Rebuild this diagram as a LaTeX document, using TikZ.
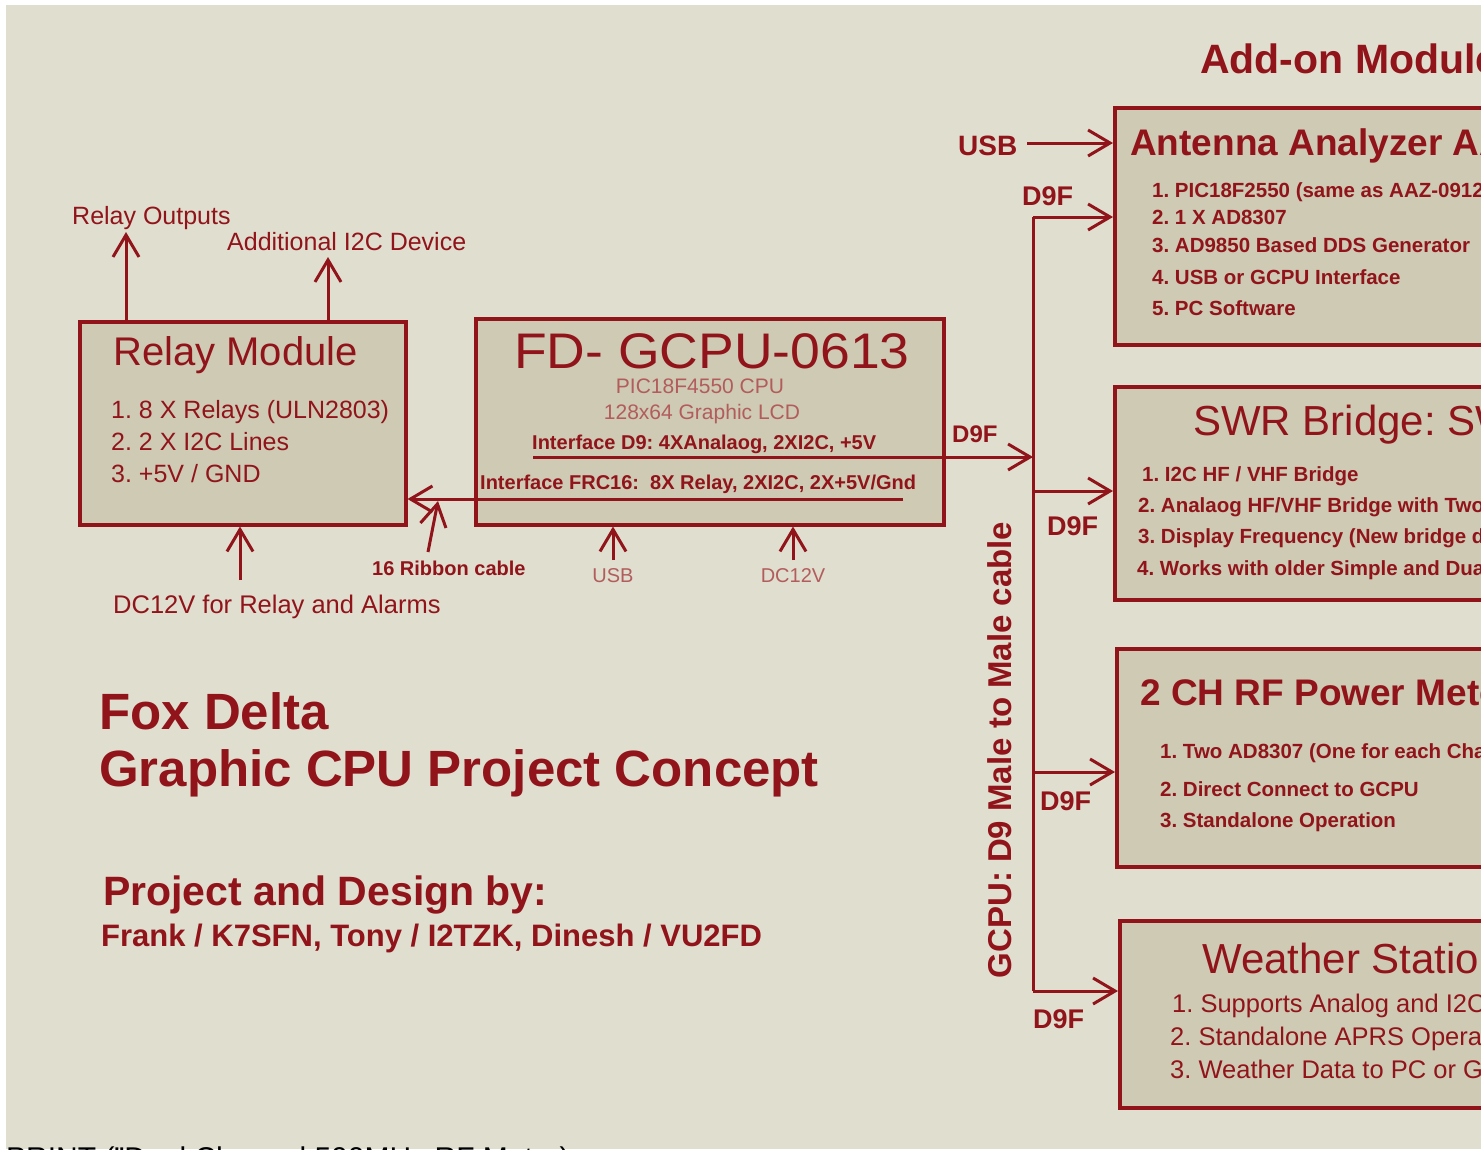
\documentclass[tikz,border=0pt]{standalone}
\usepackage{fontspec}
\usepackage{graphicx}
\setmainfont{Liberation Sans}
\usetikzlibrary{arrows.meta}
\definecolor{fdred}{RGB}{145,20,27}
\definecolor{fdlight}{RGB}{178,92,92}
\definecolor{bgc}{RGB}{223,222,207}
\definecolor{boxc}{RGB}{206,202,180}
\newcommand\fsz[1]{\fontsize{#1}{#1}\selectfont}
\frenchspacing
\begin{document}
\begin{tikzpicture}[x=1pt,y=-1pt,
 box/.style={draw=fdred, fill=boxc, line width=3.5pt, inner sep=0pt, anchor=north west},
 wire/.style={draw=fdred, line width=3pt},
 arr/.style={wire, -{Straight Barb[length=22pt,width=26pt]}},
 txt/.style={text=fdred, inner sep=0pt, anchor=base west},
 ctxt/.style={text=fdred, inner sep=0pt, anchor=base},
 ltxt/.style={text=fdlight, inner sep=0pt, anchor=base},
]
\useasboundingbox (0,0) rectangle (1481,1149);
\clip (0,0) rectangle (1481,1149);
\fill[white] (0,0) rectangle (1481,1149);
\fill[bgc] (6,5) rectangle (1481,1149);

% ---------- boxes ----------
\node[box, minimum width=326pt, minimum height=203pt] (relay) at (78,320) {};
\node[box, minimum width=468pt, minimum height=206pt] (cpu) at (474,317) {};
\node[box, minimum width=487pt, minimum height=237pt] (ant) at (1113,106) {};
\node[box, minimum width=487pt, minimum height=213pt] (swr) at (1113,385) {};
\node[box, minimum width=487pt, minimum height=218pt] (pwr) at (1115,647) {};
\node[box, minimum width=487pt, minimum height=187pt] (wx) at (1118,919) {};

% ---------- relay module ----------
\node[txt, font=\fsz{40}] (rmt) at (113,365) {Relay Module};
\node[txt, font=\fsz{25}] (rm1) at (111,418) {1. 8 X Relays (ULN2803)};
\node[txt, font=\fsz{25}] (rm2) at (111,450) {2. 2 X I2C Lines};
\node[txt, font=\fsz{25}] (rm3) at (111,482) {3. +5V / GND};

\node[txt, font=\fsz{25}] (rout) at (72,224) {Relay Outputs};
\node[txt, font=\fsz{25}] (ai2c) at (227,250) {Additional I2C Device};
\node[txt, font=\fsz{25.5}] (rdc) at (113,613) {DC12V for Relay and Alarms};
\coordinate (routtip) at (126,232);
\coordinate (ai2ctip) at (328,257);
\coordinate (rdcfoot) at (240,580);
\draw[arr] (relay.north -| routtip) -- (routtip);
\draw[arr] (relay.north -| ai2ctip) -- (ai2ctip);
\draw[arr] (rdcfoot) -- (relay.south -| rdcfoot);

% ---------- CPU ----------
\node[ctxt, font=\fsz{50}] (cput) at (712,368) {\scalebox{1.07}[1]{FD- GCPU-0613}};
\node[ltxt, font=\fsz{21}] (cpu1) at (700,393) {PIC18F4550 CPU};
\node[ltxt, font=\fsz{21}] (cpu2) at (702,419) {128x64 Graphic LCD};
\node[txt, font=\fsz{20}\bfseries] (if1) at (532,449) {Interface D9: 4XAnalaog, 2XI2C, +5V};
\node[txt, font=\fsz{20}\bfseries] (if2) at (480,489) {Interface FRC16:~ 8X Relay, 2XI2C, 2X+5V/Gnd};
\coordinate (d9start) at (533,457);
\coordinate (frcstart) at (903,499);
\coordinate (bustop) at (1033,217);
\coordinate (busbot) at (1033,991);
\draw[arr] (d9start) -- (d9start -| bustop);
\draw[arr] (frcstart) -- (frcstart -| relay.east);

\node[txt, font=\fsz{20}\bfseries] (rib) at (372,575) {16 Ribbon cable};
\coordinate (ribfoot) at (428,552);
\coordinate (ribtip) at (438,501);
\draw[arr] (ribfoot) -- (ribtip);

\node[ltxt, font=\fsz{20}] (cusb) at (613,582) {USB};
\node[ltxt, font=\fsz{20}] (cdc) at (793,582) {DC12V};
\coordinate (cusbfoot) at (613,560);
\coordinate (cdcfoot) at (793,560);
\draw[arr] (cusbfoot) -- (cusbfoot |- cpu.south);
\draw[arr] (cdcfoot) -- (cdcfoot |- cpu.south);

% ---------- bus ----------
\draw[wire] (bustop) -- (busbot);
\coordinate (swrb) at (1033,491);
\coordinate (pwrb) at (1033,772);
\draw[arr] (bustop) -- (bustop -| ant.west);
\draw[arr] (swrb) -- (swrb -| swr.west);
\draw[arr] (pwrb) -- (pwrb -| pwr.west);
\draw[arr] (busbot) -- (busbot -| wx.west);
\coordinate (usbstart) at (1027,143);
\draw[arr] (usbstart) -- (usbstart -| ant.west);

\node[txt, font=\fsz{28}\bfseries] (lusb) at (958,155) {USB};
\node[txt, font=\fsz{27}\bfseries] (l1) at (1022,205) {D9F};
\node[txt, font=\fsz{24}\bfseries] (l0) at (952,442) {D9F};
\node[txt, font=\fsz{27}\bfseries] (l2) at (1047,535) {D9F};
\node[txt, font=\fsz{27}\bfseries] (l3) at (1040,810) {D9F};
\node[txt, font=\fsz{27}\bfseries] (l4) at (1033,1028) {D9F};
\node[text=fdred, inner sep=0pt, rotate=90, font=\fsz{33}\bfseries] (cable) at (1000,750) {GCPU: D9 Male to Male cable};

% ---------- add-on modules ----------
\node[txt, font=\fsz{41}\bfseries] (addon) at (1200,73) {Add-on Modules};

\node[txt, font=\fsz{37}\bfseries] (antt) at (1130,155) {Antenna Analyzer AAZ-1013};
\node[txt, font=\fsz{20.5}\bfseries] (a1) at (1152,197) {1. PIC18F2550 (same as AAZ-0912)};
\node[txt, font=\fsz{20.5}\bfseries] (a2) at (1152,224) {2. 1 X AD8307};
\node[txt, font=\fsz{20.5}\bfseries] (a3) at (1152,252) {3. AD9850 Based DDS Generator};
\node[txt, font=\fsz{20.5}\bfseries] (a4) at (1152,284) {4. USB or GCPU Interface};
\node[txt, font=\fsz{20.5}\bfseries] (a5) at (1152,315) {5. PC Software};

\node[txt, font=\fsz{42}] (swrt) at (1193,435) {SWR Bridge: SWR};
\node[txt, font=\fsz{20.5}\bfseries] (s1) at (1142,481) {1. I2C HF / VHF Bridge};
\node[txt, font=\fsz{20.5}\bfseries] (s2) at (1138,512) {2. Analaog HF/VHF Bridge with Two AD8307};
\node[txt, font=\fsz{20.5}\bfseries] (s3) at (1138,543) {3. Display Frequency (New bridge design)};
\node[txt, font=\fsz{20.5}\bfseries] (s4) at (1137,575) {4. Works with older Simple and Dual Bridges};

\node[txt, font=\fsz{37}\bfseries] (pwrt) at (1140,705) {2 CH RF Power Meter};
\node[txt, font=\fsz{20.5}\bfseries] (p1) at (1160,758) {1. Two AD8307 (One for each Channel)};
\node[txt, font=\fsz{20.5}\bfseries] (p2) at (1160,796) {2. Direct Connect to GCPU};
\node[txt, font=\fsz{20.5}\bfseries] (p3) at (1160,827) {3. Standalone Operation};

\node[txt, font=\fsz{42}] (wxt) at (1202,973) {Weather Station};
\node[txt, font=\fsz{25.5}] (w1) at (1172,1012) {1. Supports Analog and I2C Sensors};
\node[txt, font=\fsz{25.5}] (w2) at (1170,1045) {2. Standalone APRS Operation};
\node[txt, font=\fsz{25.5}] (w3) at (1170,1078) {3. Weather Data to PC or GCPU};

% ---------- project title ----------
\node[txt, font=\fsz{51}\bfseries] (fox) at (99,729) {Fox Delta};
\node[txt, font=\fsz{51}\bfseries] (gcpc) at (99,786) {Graphic CPU Project Concept};
\node[txt, font=\fsz{41}\bfseries] (pdb) at (103,905) {Project and Design by:};
\node[txt, font=\fsz{31}\bfseries] (names) at (101,946) {Frank / K7SFN, Tony / I2TZK, Dinesh / VU2FD};

% ---------- cut-off line at bottom ----------
\node[text=black, inner sep=0pt, anchor=base west, font=\fsz{30}] (cut) at (6,1168) {PRINT ("Dual Channel 500MHz RF Meter)};
\end{tikzpicture}
\end{document}
